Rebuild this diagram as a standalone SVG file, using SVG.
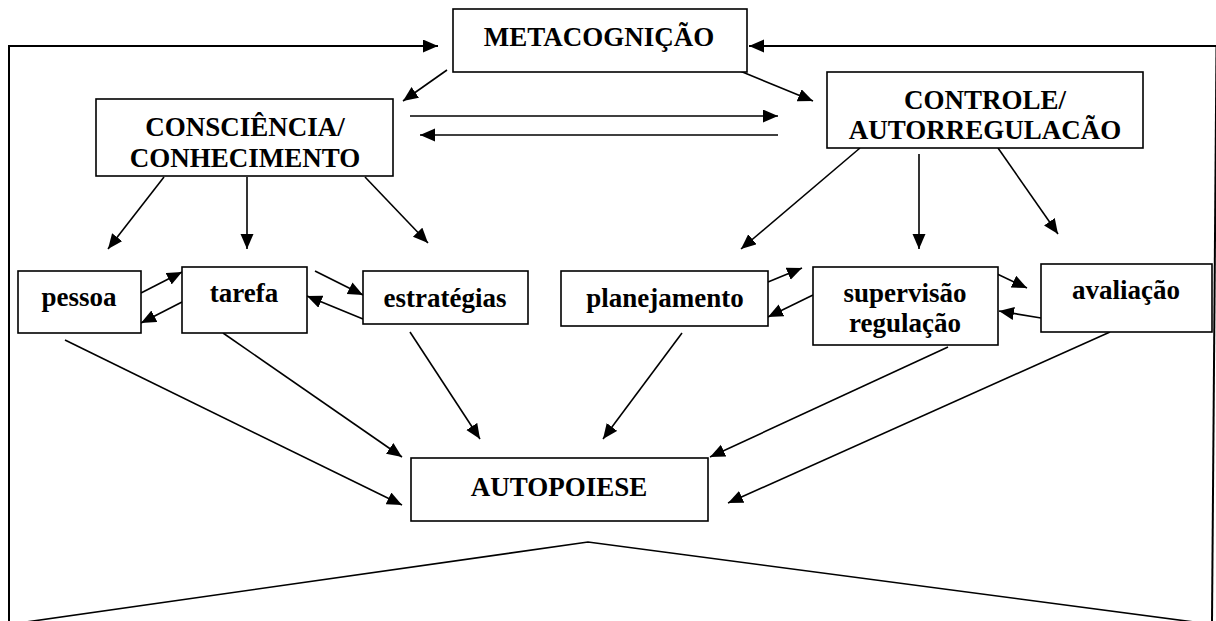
<svg xmlns="http://www.w3.org/2000/svg" width="1216" height="621" viewBox="0 0 1216 621">
<style>
.box{fill:#fff;stroke:#000;stroke-width:1.6}
.t{font-family:"Liberation Serif","Times New Roman",serif;font-weight:bold;font-size:27px;fill:#000;text-anchor:middle}
.ln{stroke:#000;stroke-width:1.6;fill:none}
.ar{stroke:#000;stroke-width:1.6;fill:none;marker-end:url(#ah)}
.fr{stroke:#000;stroke-width:2;fill:none}
</style>
<defs>
<marker id="ah" markerUnits="userSpaceOnUse" markerWidth="16" markerHeight="14" refX="15" refY="6.5" orient="auto">
<path d="M0,0 L15,6.5 L0,13 z" fill="#000"/>
</marker>
</defs>
<rect width="1216" height="621" fill="#fff"/>
<g id="connectors">
<polyline class="fr" points="9,621 9,46 436,46"/>
<path d="M9,46 L438,46" class="ar" style="stroke-width:2"/>
<polyline class="fr" points="1212,621 1216.5,46"/>
<path d="M1216,46 L749,46" class="ar" style="stroke-width:2"/>
<path class="ar" d="M447,70 L403,101"/>
<path class="ar" d="M740,71 L813,101"/>
<path class="ar" d="M410,116 L778,116"/>
<path class="ar" d="M778,135 L420,135"/>
<path class="ar" d="M164,177 L108,249"/>
<path class="ar" d="M247,177 L247,249"/>
<path class="ar" d="M365,177 L428,243"/>
<path class="ar" d="M860,148 L741,249"/>
<path class="ar" d="M919,154 L919,249"/>
<path class="ar" d="M998,148 L1058,234"/>
<path class="ar" d="M141,293 L182,272"/>
<path class="ar" d="M182,302 L141,323"/>
<path class="ar" d="M315,271 L363,295"/>
<path class="ar" d="M363,319 L307,296"/>
<path class="ar" d="M768,282 L802,268"/>
<path class="ar" d="M813,295 L768,317"/>
<path class="ar" d="M993,272 L1027,288"/>
<path class="ar" d="M1041,318 L999,311"/>
<path class="ar" d="M65,340 L402,505"/>
<path class="ar" d="M223,333 L402,457"/>
<path class="ar" d="M410,332 L480,439"/>
<path class="ar" d="M682,333 L603,439"/>
<path class="ar" d="M948,347 L710,457"/>
<path class="ar" d="M1110,332 L728,503"/>
<polyline class="ln" points="26,622 588,542 1194,622"/>
</g>
<g id="metacognicao">
<rect class="box" x="453" y="9" width="294" height="63"/>
<text class="t" x="599" y="46">METACOGNIÇÃO</text>
</g>
<g id="consciencia">
<rect class="box" x="96" y="99" width="297" height="77"/>
<text class="t" x="245" y="136">CONSCIÊNCIA/</text>
<text class="t" x="245" y="167">CONHECIMENTO</text>
</g>
<g id="controle">
<rect class="box" x="827" y="72" width="316" height="76"/>
<text class="t" x="985" y="109">CONTROLE/</text>
<text class="t" x="985" y="139">AUTORREGULACÃO</text>
</g>
<g id="pessoa">
<rect class="box" x="18" y="271" width="123" height="62"/>
<text class="t" x="79" y="306">pessoa</text>
</g>
<g id="tarefa">
<rect class="box" x="182" y="267" width="125" height="66"/>
<text class="t" x="244" y="302">tarefa</text>
</g>
<g id="estrategias">
<rect class="box" x="363" y="271" width="165" height="53"/>
<text class="t" x="445" y="307">estratégias</text>
</g>
<g id="planejamento">
<rect class="box" x="561" y="271" width="207" height="55"/>
<text class="t" x="665" y="307">planejamento</text>
</g>
<g id="supervisao">
<rect class="box" x="813" y="267" width="185" height="78"/>
<text class="t" x="905" y="302">supervisão</text>
<text class="t" x="905" y="332">regulação</text>
</g>
<g id="avaliacao">
<rect class="box" x="1041" y="264" width="171" height="68"/>
<text class="t" x="1126" y="299">avaliação</text>
</g>
<g id="autopoiese">
<rect class="box" x="411" y="458" width="297" height="63"/>
<text class="t" x="559" y="496">AUTOPOIESE</text>
</g>
</svg>
